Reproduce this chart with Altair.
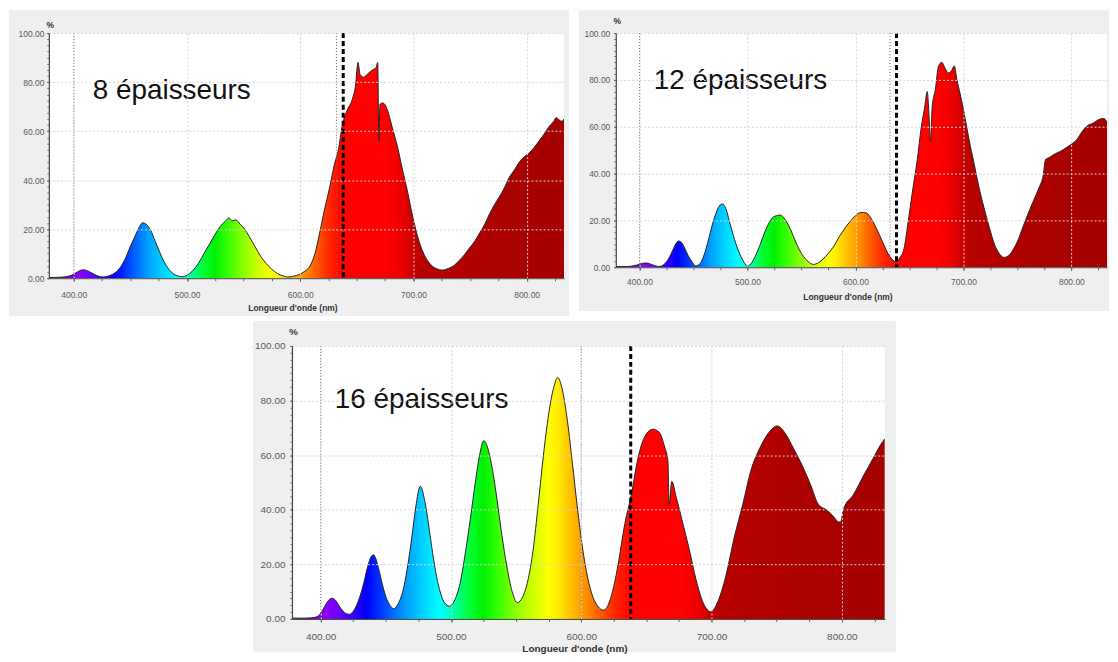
import altair as alt
import pandas as pd

NM_LO, NM_HI = 378, 833

# ---------------- data ----------------
P1_LABEL = "8 épaisseurs"
P1_NM = [378, 383, 388, 393, 398, 402, 405, 408, 411, 414, 418, 422, 426,
         430, 434, 438, 442, 446, 450, 454, 458, 461, 464, 468, 472, 476, 480, 484, 488, 492, 496,
         500, 505, 510, 515, 520, 525, 530, 534, 537, 540, 543, 547, 551, 555, 560, 565, 570, 575,
         580, 585, 589, 594, 599, 604, 608, 613, 617, 621, 626, 630, 634, 637, 641, 646, 649, 651,
         653, 656, 660, 664, 667, 668.5, 669.5, 670.5, 673, 677, 681, 686, 690, 694.5, 699, 705,
         711, 716.5, 721, 725, 731, 736, 740, 745, 749, 754, 758, 763, 767, 771, 775.6, 780, 784.5,
         789, 793, 798, 802, 806, 811, 815, 820, 824, 826, 829, 831, 833]
P1_PCT = [0.3, 0.3, 0.4, 0.6, 1.2, 2.2, 3.0, 3.4, 3.2, 2.6, 1.6, 0.8, 0.5,
          0.8, 1.5, 2.8, 5.0, 8.5, 13, 17, 21, 22.6, 22, 19.5, 15, 10.5, 6.5, 3.6, 1.8, 0.9, 0.6,
          1.2, 3, 6, 10, 14, 18, 21.5, 23.2, 24.6, 23.4, 23.8, 22, 20, 17, 13, 9, 6, 3.6,
          1.9, 0.9, 0.5, 0.8, 1.5, 2.8, 4.5, 10, 18, 27, 37, 46, 53, 62, 68, 73, 79, 88,
          83, 82, 83.5, 85, 86, 88, 56, 71, 71.5, 68.7, 62, 53.5, 45, 36, 26, 15,
          8.3, 5, 3.8, 3.3, 4, 5.2, 7, 9.5, 12, 15, 18, 22, 26, 29.5, 33, 36.5, 41,
          44, 47, 49.5, 51, 53, 56, 58.5, 62, 64, 65.5, 64.5, 64, 65]

P2_LABEL = "12 épaisseurs"
P2_NM = [378, 383, 388, 393, 398, 402, 405, 408, 411, 414, 418, 422, 426, 430, 433, 436, 439,
         442, 445, 448, 452, 456, 460, 464, 467, 470, 473, 476.5, 480, 483, 486, 490, 494, 497,
         500, 504, 508, 512, 516, 520, 524, 527, 530, 533, 536, 540, 544, 548, 552, 556, 561,
         566, 570, 575, 580, 585, 590, 595, 600, 605, 610, 615, 620, 625, 630, 634, 637.5, 641,
         645, 649, 653, 657, 661, 664, 666.5, 668, 669.5, 671, 674, 677, 680, 683, 686, 689,
         691.5, 694, 697, 701, 705, 710, 714, 719, 724, 729, 733, 737.5, 742, 746, 750, 755,
         760, 765, 770, 774, 776, 780, 785, 790, 795, 800, 805, 810, 815, 820, 825, 830, 833]
P2_PCT = [0.3, 0.3, 0.3, 0.5, 1.0, 1.6, 1.8, 1.7, 1.2, 0.7, 0.3, 1.0, 3.0, 6.5, 9.5, 11.2, 10.5,
          8, 5, 2.8, 0.6, 1.5, 5.5, 12, 17.5, 22, 25.5, 27, 25, 20, 15, 9, 4.5, 2,
          0.5, 2, 5.5, 10, 15, 19, 21.5, 22, 22.3, 21.5, 19.5, 16, 11.5, 7.5, 4.5, 2.5, 1.2,
          2, 3.5, 6, 9, 13, 16.5, 19.5, 22, 23.4, 23.2, 20.5, 16, 11, 6, 3.4, 2.3, 4,
          8, 20, 33, 45, 60, 68, 75, 66, 54, 68, 76, 86, 87.5, 85, 83, 84,
          86, 80, 74, 65, 55, 44, 35, 25.5, 17, 9.5, 6, 4.2, 5, 7.5, 11, 17,
          23, 28.5, 34, 39.5, 46, 47, 48.5, 49.5, 51, 52.5, 54.5, 58, 60.5, 61.5, 63, 63.5, 62]

P3_LABEL = "16 épaisseurs"
P3_NM = [378, 383, 388, 393, 397, 400, 403, 406, 409, 412, 415, 418, 422, 426, 430, 433, 436,
         439, 440.5, 442, 445, 448, 451, 454, 456, 460, 464, 467, 470, 473, 476.5, 480, 483,
         486, 489, 492, 495, 499, 503, 507, 511, 515, 519, 522, 525.3, 528, 531, 535, 539,
         543, 547, 551, 555, 559, 563, 567, 571, 575, 579, 582, 585, 589, 593, 597, 601, 605,
         609, 613, 617, 621, 625, 628.5, 633.5, 638.5, 643.5, 649, 655, 660, 664, 666.5,
         667.5, 669.5, 673, 678, 683, 688, 694.5, 699.6, 704.7, 711, 717.5, 724, 730, 738,
         744, 750.5, 757, 763, 770, 776, 782, 789, 794, 797.6, 799, 801.4, 809, 817, 824, 830, 833]
P3_PCT = [0.3, 0.3, 0.3, 0.4, 0.8, 2, 4.5, 6.8, 7.6, 6.5, 4.2, 2.5, 1.7, 3.5, 8, 13, 19,
          23, 23.5, 22.5, 17.5, 11.5, 7, 4.5, 3.8, 6, 12, 20, 30, 41, 48.6, 43, 34,
          24, 15.5, 9.5, 6, 4.7, 7, 13, 24, 37, 51, 60, 65.3, 63, 57, 45, 31,
          19, 10, 6, 8, 14, 25, 42, 60, 75, 85, 88.4, 85, 74, 58, 41, 26, 15,
          8, 4.5, 3.2, 5.5, 12, 20.5, 35, 45.6, 58.8, 67, 69.5, 68.3, 63, 58,
          42, 50.4, 44.4, 35, 25.3, 14.6, 5, 2.6, 6.2, 15.8, 30, 42, 54, 63.5,
          68.3, 70.7, 67.7, 62.4, 55.8, 49.2, 42, 39.7, 37.3, 35.5, 35.5, 40.3, 45.6, 52.8, 58.8, 64, 66]

DOTTED_P1 = [400, 632]
DOTTED_P2 = [400, 632]
DOTTED_P3 = [400, 600]
DASHED_NM = [638]

X_TICKS = [400, 500, 600, 700, 800]
X_MINOR = [400, 425, 450, 475, 500, 525, 550, 575, 600, 625, 650, 675, 700, 725, 750, 775, 800, 825]
Y_TICKS = [0, 20, 40, 60, 80, 100]
Y_MINOR = [i * 2.5 for i in range(41)]

# spectral colour ramp (wavelength -> colour)
SPEC_NM = [378, 395, 405, 415, 425, 435, 445, 455, 465, 475, 485, 492, 500, 508, 515, 525,
           535, 545, 555, 565, 575, 582, 590, 600, 610, 620, 630, 640, 675, 688, 698, 706, 760, 833]
SPEC_COLOR = ["#5a0090", "#7a00d0", "#8a00ff", "#6a00ff", "#3300ff", "#0000ff", "#0030ff",
              "#0068ff", "#009cff", "#00c4ff", "#00e8ff", "#00ffff", "#00ffc0", "#00ff70",
              "#00ff30", "#00f000", "#30ff00", "#70ff00", "#a8ff00", "#d8ff00", "#ffff00",
              "#ffee00", "#ffc800", "#ffa000", "#ff7000", "#ff4000", "#ff1800", "#ff0000",
              "#ff0000", "#f00000", "#d00000", "#b80000", "#ad0000", "#a40000"]

GRADIENT = {
    "gradient": "linear", "x1": 0, "x2": 1, "y1": 0, "y2": 0,
    "stops": [{"offset": (n - NM_LO) / (NM_HI - NM_LO), "color": c}
              for n, c in zip(SPEC_NM, SPEC_COLOR)],
}

FONT = "Liberation Sans"


def panel(nm, pct, label, dotted, c):
    w, h = c["w"], c["h"]
    df = pd.DataFrame({"nm": nm, "pct": pct})
    one = pd.DataFrame({"k": [0]})
    xs = alt.Scale(domain=[NM_LO, NM_HI], nice=False, zero=False)
    ys = alt.Scale(domain=[0, 100], nice=False)

    x_major = alt.Axis(orient="bottom", values=X_TICKS, format=".2f", labelFont=FONT,
                       labelFontSize=c["fs"], labelColor="#5a5a5a", tickColor="#555555",
                       tickSize=3, labelPadding=c["xlp"], domainColor="#444444",
                       grid=True, gridColor="#d4d4d4", gridDash=[2, 2],
                       title="Longueur d'onde (nm)", titleFont=FONT, titleFontSize=c["fs"],
                       titleFontWeight="bold", titleColor="#333333", titleX=w / 2 - 14,
                       titleY=c["xty"], titleAlign="center", titleBaseline="middle", zindex=1)
    x_minor = alt.Axis(orient="bottom", values=X_MINOR, labels=False, grid=False, domain=False,
                       tickColor="#666666", tickSize=2.5, title="", zindex=1)
    y_major = alt.Axis(orient="left", values=Y_TICKS, format=".2f", labelFont=FONT,
                       labelFontSize=c["fs"], labelColor="#5a5a5a", tickColor="#555555",
                       tickSize=2, labelPadding=c["ylp"], domainColor="#444444",
                       domainWidth=1.2, grid=True, gridColor="#d4d4d4", gridDash=[2, 2],
                       title="%", titleFont=FONT, titleFontSize=c["fs"], titleFontWeight="bold",
                       titleColor="#333333", titleAngle=0, titleX=1, titleY=c["pty"],
                       titleAlign="center", titleBaseline="middle", zindex=1)
    y_minor = alt.Axis(orient="left", values=Y_MINOR, labels=False, grid=False, domain=False,
                       tickColor="#666666", tickSize=2, title="", zindex=1)

    bg = alt.Chart(one).mark_rect(color="#efefef").encode(
        x=alt.value(c["bl"]), x2=alt.value(w + c["br"]),
        y=alt.value(c["bt"]), y2=alt.value(h + c["bb"]))
    white = alt.Chart(one).mark_rect(color="#ffffff").encode(
        x=alt.value(0), x2=alt.value(w), y=alt.value(0), y2=alt.value(h))
    area = alt.Chart(df).mark_area(color=GRADIENT, interpolate="monotone", clip=True).encode(
        x=alt.X("nm:Q", scale=xs, axis=x_major),
        y=alt.Y("pct:Q", scale=ys, axis=y_major))
    line = alt.Chart(df).mark_line(color="#262626", strokeWidth=1, interpolate="monotone",
                                   clip=True).encode(
        x=alt.X("nm:Q", scale=xs, axis=x_minor),
        y=alt.Y("pct:Q", scale=ys, axis=y_minor))
    dots = alt.Chart(pd.DataFrame({"nm": dotted})).mark_rule(
        color="#6a6a6a", strokeWidth=1, strokeDash=[1, 2]).encode(
        x=alt.X("nm:Q", scale=xs, axis=None))
    dash = alt.Chart(pd.DataFrame({"nm": DASHED_NM})).mark_rule(
        color="#000000", strokeWidth=3, strokeDash=[5, 3]).encode(
        x=alt.X("nm:Q", scale=xs, axis=None))
    txt = alt.Chart(pd.DataFrame({"t": [label]})).mark_text(
        align="left", baseline="alphabetic", font=FONT, fontSize=28, color="#111111").encode(
        x=alt.value(c["tx"]), y=alt.value(c["ty"]), text="t:N")

    return alt.layer(bg, white, area, line, dots, dash, txt).resolve_axis(
        x="independent", y="independent").properties(width=w, height=h)


C1 = dict(w=517, h=246, fs=8.5, xlp=9, xty=29, ylp=3, pty=-9,
          bl=-40, br=5, bt=-23, bb=38, tx=44, ty=66)
C2 = dict(w=493, h=235, fs=8.5, xlp=7, xty=29, ylp=4, pty=-13,
          bl=-37, br=2, bt=-23, bb=44, tx=38, ty=56)
C3 = dict(w=595, h=274, fs=10, xlp=10, xty=30, ylp=5, pty=-14,
          bl=-39, br=11, bt=-25, bb=33, tx=43, ty=62)

p1 = panel(P1_NM, P1_PCT, P1_LABEL, DOTTED_P1, C1)
p2 = panel(P2_NM, P2_PCT, P2_LABEL, DOTTED_P2, C2)
p3 = panel(P3_NM, P3_PCT, P3_LABEL, DOTTED_P3, C3)

# blank white block that only pushes the bottom panel to the right
spacer = alt.Chart(pd.DataFrame({"k": [0]})).mark_rect(color="#ffffff").encode(
    x=alt.value(-3), x2=alt.value(203), y=alt.value(-3), y2=alt.value(4)
).properties(width=203, height=1)

top = alt.hconcat(p1, p2, spacing=8)
bottom = alt.hconcat(spacer, p3, spacing=0)
chart = alt.vconcat(top, bottom, spacing=3).properties(padding=0).configure_view(
    stroke="transparent", strokeWidth=0).configure(background="#ffffff")

chart.save("out.html", embed_options={"renderer": "svg", "actions": False})
